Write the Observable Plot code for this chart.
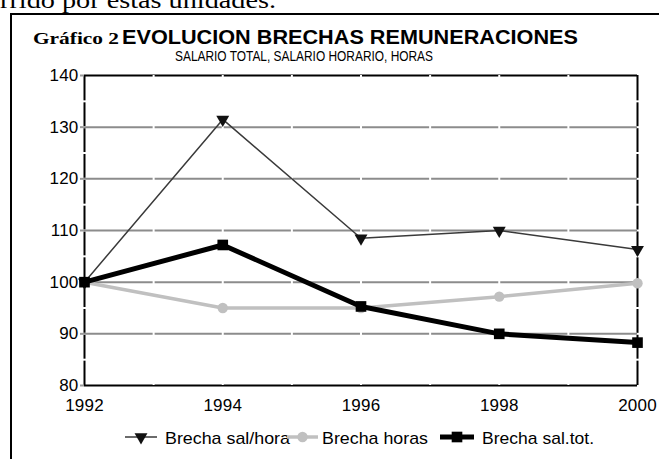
<!DOCTYPE html>
<html><head><meta charset="utf-8">
<script src="https://cdn.jsdelivr.net/npm/d3@7"></script>
<script src="https://cdn.jsdelivr.net/npm/@observablehq/plot@0.6"></script>
<style>
html,body{margin:0;padding:0;background:#fff;width:659px;height:459px;overflow:hidden;font-family:"Liberation Sans",Arial,sans-serif;}
#box{position:absolute;left:10px;top:13px;width:700px;height:460px;border:2px solid #000;box-sizing:border-box;}
#chart{position:absolute;left:0;top:60px;}
#overlay{position:absolute;left:0;top:0;}
</style></head>
<body>
<div id="box"></div>
<div id="chart"></div>
<svg id="overlay" width="659" height="459"></svg>
<script>
const years = [1992, 1994, 1996, 1998, 2000];
const salHora = [100, 131.5, 108.5, 110, 106.3];
const horas = [100, 95, 95, 97.2, 99.8];
const salTot = [100, 107.2, 95.3, 90, 88.3];
const seriesNames = ["Brecha sal/hora", "Brecha horas", "Brecha sal.tot."];
const yTicks = [80, 90, 100, 110, 120, 130, 140];
const xTicks = [1992, 1994, 1996, 1998, 2000];
const titleLead = "Gráfico 2";
const titleMain = "EVOLUCION BRECHAS REMUNERACIONES";
const subtitle = "SALARIO TOTAL, SALARIO HORARIO, HORAS";
const topText = "rrido por estas unidades.";

const rows = (vals, name) => years.map((y, i) => ({year: y, value: vals[i], series: name}));
const dHora = rows(salHora, seriesNames[0]);
const dHoras = rows(horas, seriesNames[1]);
const dTot = rows(salTot, seriesNames[2]);

const interiorYears = d3.range(1993, 2000);
const halfSteps = d3.range(85, 140, 5);
const gridVals = [90, 100, 110, 120, 130];
const eps = 0.03;

const chart = Plot.plot({
  width: 659, height: 360,
  marginLeft: 84, marginRight: 22, marginTop: 15, marginBottom: 35,
  style: {fontFamily: "Liberation Sans, Arial, sans-serif", background: "transparent", color: "#000", overflow: "visible"},
  x: {domain: [1992, 2000]},
  y: {domain: [80, 140]},
  marks: [
    Plot.ruleX([1992, 2000], {stroke: "#000", strokeWidth: 2}),
    Plot.ruleY(halfSteps, {x1: 1992 - eps, x2: 1992 + eps, stroke: "#fff", strokeWidth: 2}),
    Plot.ruleY(halfSteps, {x1: 2000 - eps, x2: 2000 + eps, stroke: "#fff", strokeWidth: 2}),
    Plot.ruleY([80, 140], {stroke: "#000", strokeWidth: 2}),
    Plot.ruleY(gridVals, {stroke: "#8c8c8c", strokeWidth: 2}),
    Plot.ruleX(interiorYears, {stroke: "#fff", strokeWidth: 2}),
    Plot.axisY(yTicks, {tickSize: 4, tickPadding: 2, fontSize: 17, stroke: "#999", strokeWidth: 2, label: null}),
    Plot.axisX(xTicks, {tickSize: 0, tickPadding: 13, fontSize: 17, tickFormat: d => String(d), label: null}),
    Plot.line(dHoras, {x: "year", y: "value", stroke: "#c0c0c0", strokeWidth: 3.5}),
    Plot.dot(dHoras, {x: "year", y: "value", r: 5.2, fill: "#c0c0c0", stroke: "none"}),
    Plot.line(dHora, {x: "year", y: "value", stroke: "#3a3a3a", strokeWidth: 1.5}),
    Plot.dot(dHora, {x: "year", y: "value", symbol: "triangle", r: 4.8, rotate: 180, fill: "#111", stroke: "none"}),
    Plot.line(dTot, {x: "year", y: "value", stroke: "#000", strokeWidth: 5}),
    Plot.dot(dTot, {x: "year", y: "value", symbol: "square", r: 6, fill: "#000", stroke: "none"})
  ]
});
chart.querySelectorAll("text").forEach(t => t.style.letterSpacing = "0.2px");
document.getElementById("chart").appendChild(chart);

const ov = d3.select("#overlay");
ov.append("text").attr("x", 0).attr("y", 8).attr("font-family", "Liberation Serif, serif").attr("font-size", 24)
  .attr("textLength", 276).attr("lengthAdjust", "spacingAndGlyphs").text(topText);
ov.append("text").attr("x", 33).attr("y", 44).attr("font-family", "Liberation Serif, serif").attr("font-weight", "bold")
  .attr("font-size", 17.5).attr("textLength", 86).attr("lengthAdjust", "spacingAndGlyphs").text(titleLead);
ov.append("text").attr("x", 122).attr("y", 44).attr("font-family", "Liberation Sans, Arial, sans-serif").attr("font-weight", "bold")
  .attr("font-size", 19.5).attr("textLength", 456).attr("lengthAdjust", "spacingAndGlyphs").text(titleMain);
ov.append("text").attr("x", 175).attr("y", 61).attr("font-family", "Liberation Sans, Arial, sans-serif")
  .attr("font-size", 14.5).attr("textLength", 258).attr("lengthAdjust", "spacingAndGlyphs").text(subtitle);

const legY = 437;
const leg = [
  {x0: 125, x1: 157, tx: 165, tw: 125, color: "#3a3a3a", w: 1.5, sym: d3.symbolTriangle, size: Math.PI * 4.8 * 4.8, rot: 180, fill: "#111"},
  {x0: 287, x1: 318, tx: 322, tw: 106, color: "#c0c0c0", w: 3.5, sym: d3.symbolCircle, size: Math.PI * 5.2 * 5.2, rot: 0, fill: "#c0c0c0"},
  {x0: 440, x1: 474, tx: 482, tw: 112, color: "#000", w: 5, sym: d3.symbolSquare, size: Math.PI * 6 * 6, rot: 0, fill: "#000"}
];
leg.forEach((l, i) => {
  ov.append("line").attr("x1", l.x0).attr("x2", l.x1).attr("y1", legY).attr("y2", legY).attr("stroke", l.color).attr("stroke-width", l.w);
  ov.append("path").attr("d", d3.symbol(l.sym, l.size)()).attr("fill", l.fill)
    .attr("transform", `translate(${(l.x0 + l.x1) / 2},${legY}) rotate(${l.rot})`);
  ov.append("text").attr("x", l.tx).attr("y", legY + 7).attr("font-family", "Liberation Sans, Arial, sans-serif")
    .attr("font-size", 17).attr("textLength", l.tw).attr("lengthAdjust", "spacingAndGlyphs").text(seriesNames[i]);
});
</script>
</body></html>
